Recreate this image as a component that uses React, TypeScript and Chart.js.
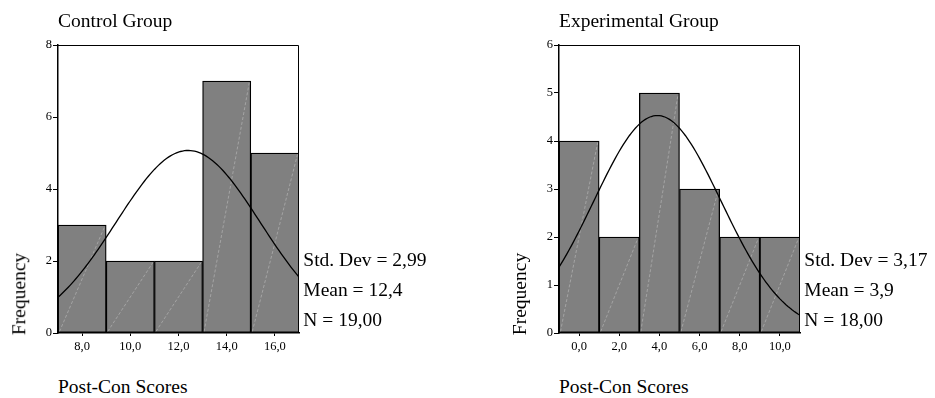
import React, { useEffect, useRef } from "react";
import { Chart, registerables } from "chart.js";

Chart.register(...registerables);

// ---------- Data ----------
const controlTitle = "Control Group";
const controlBinCenters = [8, 10, 12, 14, 16];
const controlCounts = [3, 2, 2, 7, 5];
const controlXTicks = [8, 10, 12, 14, 16];
const controlXTickLabels = ["8,0", "10,0", "12,0", "14,0", "16,0"];
const controlYTicks = [0, 2, 4, 6, 8];
const controlYTickLabels = ["0", "2", "4", "6", "8"];
const controlRange = [7, 17];
const controlMean = 12.4;
const controlSd = 2.99;
const controlN = 19;
const controlStats = ["Std. Dev = 2,99", "Mean = 12,4", "N = 19,00"];

const expTitle = "Experimental Group";
const expBinCenters = [0, 2, 4, 6, 8, 10];
const expCounts = [4, 2, 5, 3, 2, 2];
const expXTicks = [0, 2, 4, 6, 8, 10];
const expXTickLabels = ["0,0", "2,0", "4,0", "6,0", "8,0", "10,0"];
const expYTicks = [0, 1, 2, 3, 4, 5, 6];
const expYTickLabels = ["0", "1", "2", "3", "4", "5", "6"];
const expRange = [-1, 11];
const expMean = 3.9;
const expSd = 3.17;
const expN = 18;
const expStats = ["Std. Dev = 3,17", "Mean = 3,9", "N = 18,00"];

const binWidth = 2;
const xAxisTitle = "Post-Con Scores";
const yAxisTitle = "Frequency";

const FONT = "'Liberation Serif', 'Times New Roman', serif";

// ---------- Plugins ----------
const framePlugin = {
  id: "frame",
  beforeDatasetsDraw(chart: any) {
    const { ctx, chartArea: a } = chart;
    ctx.save();
    ctx.strokeStyle = "#000";
    ctx.lineWidth = 1;
    ctx.beginPath();
    ctx.moveTo(a.left, Math.round(a.top) + 0.5);
    ctx.lineTo(Math.round(a.right) - 0.5, Math.round(a.top) + 0.5);
    ctx.lineTo(Math.round(a.right) - 0.5, a.bottom);
    ctx.stroke();
    ctx.restore();
  },
};

const hatchPlugin = {
  id: "hatch",
  afterDatasetDraw(chart: any, args: any) {
    const ds = chart.data.datasets[args.index];
    if (ds.type !== "bar") return;
    const { ctx } = chart;
    ctx.save();
    ctx.strokeStyle = "rgba(255,255,255,0.4)";
    ctx.lineWidth = 0.7;
    ctx.setLineDash([3, 2]);
    for (const el of args.meta.data) {
      const p = el.getProps(["x", "y", "base", "width"], true);
      const l = p.x - p.width / 2 + 1.5;
      const r = p.x + p.width / 2 - 1.5;
      ctx.beginPath();
      ctx.moveTo(l, p.base - 1);
      ctx.lineTo(r, p.y + 1.5);
      ctx.stroke();
    }
    ctx.restore();
  },
};

type HistProps = {
  left: number;
  centers: number[];
  counts: number[];
  xTicks: number[];
  xTickLabels: string[];
  yTicks: number[];
  yTickLabels: string[];
  range: number[];
  mean: number;
  sd: number;
  n: number;
};

function Histogram(p: HistProps) {
  const ref = useRef<HTMLCanvasElement>(null);
  useEffect(() => {
    const canvas = ref.current!;
    const curve: { x: number; y: number }[] = [];
    const steps = 120;
    const peak = (p.n * binWidth) / (p.sd * Math.sqrt(2 * Math.PI));
    for (let i = 0; i <= steps; i++) {
      const x = p.range[0] + ((p.range[1] - p.range[0]) * i) / steps;
      const z = (x - p.mean) / p.sd;
      curve.push({ x, y: peak * Math.exp(-0.5 * z * z) });
    }
    const tickFont = { family: FONT, size: 12.5 };
    const chart = new Chart(canvas, {
      type: "bar",
      data: {
        datasets: [
          {
            type: "line",
            data: curve,
            borderColor: "#000",
            borderWidth: 1.3,
            pointRadius: 0,
            fill: false,
            tension: 0,
            order: 0,
          } as any,
          {
            type: "bar",
            data: p.centers.map((c, i) => ({ x: c, y: p.counts[i] })),
            backgroundColor: "#808080",
            borderColor: "#000",
            borderWidth: 1.3,
            borderSkipped: false,
            barPercentage: 1,
            categoryPercentage: 1,
            order: 1,
          } as any,
        ],
      },
      options: {
        responsive: false,
        maintainAspectRatio: false,
        animation: false,
        events: [],
        layout: { padding: { top: 45, right: 11, left: 0, bottom: 0 } },
        plugins: {
          legend: { display: false },
          tooltip: { enabled: false },
        },
        scales: {
          x: {
            type: "linear",
            min: p.range[0],
            max: p.range[1],
            offset: false,
            grid: {
              display: true,
              drawOnChartArea: false,
              drawTicks: true,
              tickLength: 3,
              color: "#000",
              offset: false,
            },
            border: { display: true, color: "#000", width: 1.5 },
            afterBuildTicks: (s: any) => {
              s.ticks = p.xTicks.map((v) => ({ value: v }));
            },
            ticks: {
              autoSkip: false,
              maxRotation: 0,
              color: "#000",
              font: tickFont,
              padding: 3.5,
              callback: (_v: any, i: number) => p.xTickLabels[i],
            },
            afterFit: (s: any) => {
              s.height = 27;
            },
          } as any,
          y: {
            type: "linear",
            min: 0,
            max: p.yTicks[p.yTicks.length - 1],
            grid: { display: true, drawOnChartArea: false, drawTicks: true, tickLength: 5, color: "#000" },
            border: { display: true, color: "#000", width: 1.5 },
            afterBuildTicks: (s: any) => {
              s.ticks = p.yTicks.map((v) => ({ value: v }));
            },
            ticks: {
              autoSkip: false,
              color: "#000",
              font: tickFont,
              padding: 1,
              callback: (_v: any, i: number) => p.yTickLabels[i],
            },
            afterFit: (s: any) => {
              s.width = 58;
            },
          } as any,
        },
      },
      plugins: [framePlugin, hatchPlugin],
    });
    return () => chart.destroy();
  }, []);
  return (
    <canvas
      ref={ref}
      width={310}
      height={360}
      style={{ position: "absolute", left: p.left, top: 0, width: 310, height: 360 }}
    />
  );
}

const textBase: React.CSSProperties = {
  position: "absolute",
  fontFamily: FONT,
  fontSize: "19.5px",
  lineHeight: "19.5px",
  whiteSpace: "nowrap",
  color: "#000",
};

function Panel({ offset, title, stats }: { offset: number; title: string; stats: string[] }) {
  return (
    <>
      <div style={{ ...textBase, left: 58 + offset, top: 10.5 }}>{title}</div>
      <div style={{ ...textBase, left: 58 + offset, top: 377 }}>{xAxisTitle}</div>
      <div
        style={{
          ...textBase,
          left: 18.6 + offset,
          top: 293.5,
          transform: "translate(-50%, -50%) rotate(-90deg)",
        }}
      >
        {yAxisTitle}
      </div>
      {stats.map((s, i) => (
        <div key={i} style={{ ...textBase, left: 303.3 + offset, top: 250 + i * 30 }}>
          {s}
        </div>
      ))}
    </>
  );
}

export default function App() {
  return (
    <div
      style={{
        position: "absolute",
        left: 0,
        top: 0,
        width: 935,
        height: 398,
        overflow: "hidden",
        background: "#fff",
      }}
    >
      <Histogram
        left={0}
        centers={controlBinCenters}
        counts={controlCounts}
        xTicks={controlXTicks}
        xTickLabels={controlXTickLabels}
        yTicks={controlYTicks}
        yTickLabels={controlYTickLabels}
        range={controlRange}
        mean={controlMean}
        sd={controlSd}
        n={controlN}
      />
      <Histogram
        left={501}
        centers={expBinCenters}
        counts={expCounts}
        xTicks={expXTicks}
        xTickLabels={expXTickLabels}
        yTicks={expYTicks}
        yTickLabels={expYTickLabels}
        range={expRange}
        mean={expMean}
        sd={expSd}
        n={expN}
      />
      <Panel offset={0} title={controlTitle} stats={controlStats} />
      <Panel offset={501} title={expTitle} stats={expStats} />
    </div>
  );
}
